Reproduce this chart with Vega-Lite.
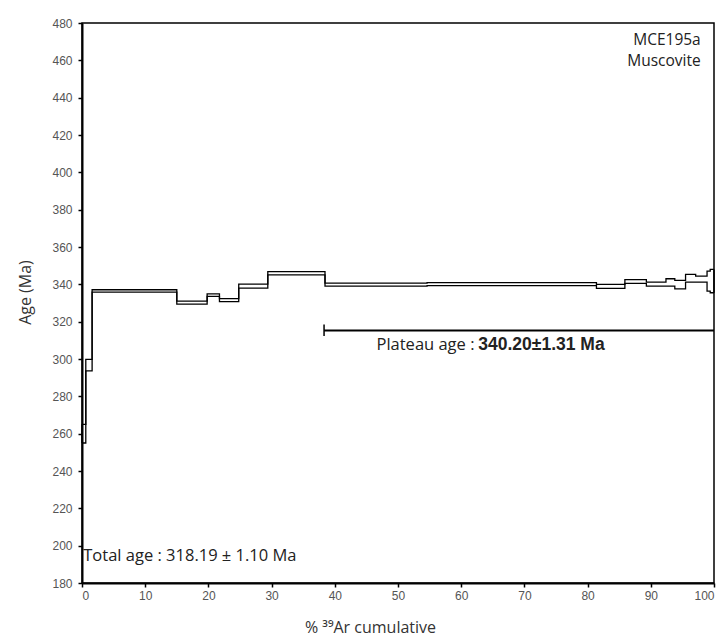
{
  "$schema": "https://vega.github.io/schema/vega-lite/v6.json",
  "width": 632,
  "height": 560,
  "autosize": "none",
  "padding": {"left": 82, "top": 23, "right": 10, "bottom": 56},
  "background": "white",
  "config": {
    "view": {"stroke": "black", "strokeWidth": 1.5},
    "axis": {
      "labelFont": "Liberation Sans",
      "labelFontSize": 12,
      "labelColor": "#555555",
      "labelOverlap": false,
      "labelBound": false,
      "tickColor": "black",
      "tickWidth": 1.5,
      "tickSize": 4,
      "domainColor": "black",
      "domainWidth": 2,
      "grid": false,
      "titleFont": "Open Sans",
      "titleFontSize": 16,
      "titleFontWeight": "normal",
      "titleColor": "#333333"
    }
  },
  "datasets": {
    "steps": [
      {"pct": 0, "age": 265, "bound": "upper"},
      {"pct": 0.6, "age": 299.8, "bound": "upper"},
      {"pct": 1.6, "age": 337.1, "bound": "upper"},
      {"pct": 15.0, "age": 331.0, "bound": "upper"},
      {"pct": 19.8, "age": 334.9, "bound": "upper"},
      {"pct": 21.75, "age": 332.3, "bound": "upper"},
      {"pct": 24.8, "age": 340.1, "bound": "upper"},
      {"pct": 29.4, "age": 346.8, "bound": "upper"},
      {"pct": 38.45, "age": 340.6, "bound": "upper"},
      {"pct": 54.6, "age": 340.9, "bound": "upper"},
      {"pct": 81.4, "age": 340.0, "bound": "upper"},
      {"pct": 85.9, "age": 342.5, "bound": "upper"},
      {"pct": 89.3, "age": 341.2, "bound": "upper"},
      {"pct": 92.4, "age": 343.0, "bound": "upper"},
      {"pct": 93.8, "age": 342.1, "bound": "upper"},
      {"pct": 95.5, "age": 345.3, "bound": "upper"},
      {"pct": 97.1, "age": 344.4, "bound": "upper"},
      {"pct": 98.9, "age": 347.1, "bound": "upper"},
      {"pct": 99.4, "age": 348.0, "bound": "upper"},
      {"pct": 100, "age": 348.0, "bound": "upper"},
      {"pct": 0, "age": 255, "bound": "lower"},
      {"pct": 0.6, "age": 293.6, "bound": "lower"},
      {"pct": 1.6, "age": 335.8, "bound": "lower"},
      {"pct": 15.0, "age": 329.4, "bound": "lower"},
      {"pct": 19.8, "age": 333.5, "bound": "lower"},
      {"pct": 21.75, "age": 330.7, "bound": "lower"},
      {"pct": 24.8, "age": 338.0, "bound": "lower"},
      {"pct": 29.4, "age": 345.1, "bound": "lower"},
      {"pct": 38.45, "age": 339.0, "bound": "lower"},
      {"pct": 54.6, "age": 339.3, "bound": "lower"},
      {"pct": 81.4, "age": 337.8, "bound": "lower"},
      {"pct": 85.9, "age": 340.5, "bound": "lower"},
      {"pct": 89.3, "age": 339.0, "bound": "lower"},
      {"pct": 92.4, "age": 339.0, "bound": "lower"},
      {"pct": 93.8, "age": 337.6, "bound": "lower"},
      {"pct": 95.5, "age": 341.2, "bound": "lower"},
      {"pct": 97.1, "age": 341.2, "bound": "lower"},
      {"pct": 98.9, "age": 336.4, "bound": "lower"},
      {"pct": 99.4, "age": 335.5, "bound": "lower"},
      {"pct": 100, "age": 335.5, "bound": "lower"}
    ],
    "edges": [
      {"pct": 0, "age": 255, "hi": 265},
      {"pct": 100, "age": 335.5, "hi": 348.0},
      {"pct": 38.3, "age": 312.3, "hi": 318.5}
    ],
    "plateau": [
      {"pct": 38.3, "end": 100, "age": 315.3}
    ],
    "plateauLabel": [
      {"pct": 62.1, "age": 307.6, "text": "Plateau age : "}
    ],
    "bold": [
      {"pct": 62.7, "age": 307.6, "text": "340.20±1.31 Ma"}
    ],
    "total": [
      {"pct": 0.2, "age": 194.3, "text": "Total age : 318.19 ± 1.10 Ma"}
    ],
    "sample": [
      {"pct": 97.9, "age": 471.0, "text": "MCE195a"},
      {"pct": 97.9, "age": 459.8, "text": "Muscovite"}
    ]
  },
  "encoding": {
    "x": {
      "field": "pct", "type": "quantitative",
      "scale": {"domain": [0, 100], "nice": false},
      "axis": {
        "values": [0, 10, 20, 30, 40, 50, 60, 70, 80, 90, 100],
        "labelPadding": 3,
        "labelOverlap": false,
        "title": "% ³⁹Ar cumulative",
        "titleX": 288,
        "titleY": 44,
        "titleAlign": "center",
        "titleBaseline": "middle"
      }
    },
    "y": {
      "field": "age", "type": "quantitative",
      "scale": {"domain": [180, 480], "nice": false, "zero": false},
      "axis": {
        "values": [180, 200, 220, 240, 260, 280, 300, 320, 340, 360, 380, 400, 420, 440, 460, 480],
        "labelOverlap": false,
        "labelPadding": 6,
        "title": "Age (Ma)",
        "titleX": -57,
        "titleY": 269,
        "titleAngle": -90,
        "titleAlign": "center",
        "titleBaseline": "middle"
      }
    }
  },
  "layer": [
    {
      "data": {"name": "steps"},
      "mark": {"type": "line", "interpolate": "step-after", "color": "black", "strokeWidth": 1.3},
      "encoding": {
        "detail": {"field": "bound", "type": "nominal"}
      }
    },
    {
      "data": {"name": "edges"},
      "mark": {"type": "rule", "color": "black", "strokeWidth": 1.5},
      "encoding": {
        "y2": {"field": "hi"}
      }
    },
    {
      "data": {"name": "plateau"},
      "mark": {"type": "rule", "color": "black", "strokeWidth": 2},
      "encoding": {
        "x2": {"field": "end"}
      }
    },
    {
      "data": {"name": "plateauLabel"},
      "mark": {"type": "text", "font": "Open Sans", "fontSize": 16.5, "align": "right", "baseline": "middle", "color": "#222222"},
      "encoding": {
        "text": {"field": "text"}
      }
    },
    {
      "data": {"name": "bold"},
      "mark": {"type": "text", "font": "Liberation Sans", "fontWeight": "bold", "fontSize": 17.5, "align": "left", "baseline": "middle", "color": "#222222"},
      "encoding": {
        "text": {"field": "text"}
      }
    },
    {
      "data": {"name": "total"},
      "mark": {"type": "text", "font": "Open Sans", "fontSize": 16.5, "align": "left", "baseline": "middle", "color": "#222222"},
      "encoding": {
        "text": {"field": "text"}
      }
    },
    {
      "data": {"name": "sample"},
      "mark": {"type": "text", "font": "Open Sans", "fontSize": 15.5, "align": "right", "baseline": "middle", "color": "#222222"},
      "encoding": {
        "text": {"field": "text"}
      }
    }
  ]
}
